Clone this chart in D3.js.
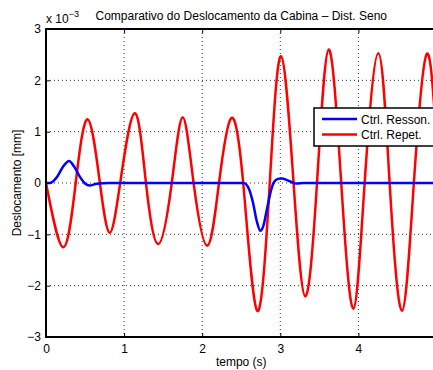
<!DOCTYPE html>
<html>
<head>
<meta charset="utf-8">
<script src="https://cdn.jsdelivr.net/npm/d3@7"></script>
<style>
  html, body { margin: 0; padding: 0; background: #fff; }
  svg { display: block; }
  text { font-family: "Liberation Sans", Arial, Helvetica, sans-serif; fill: #000; }
</style>
</head>
<body>
<svg id="chart" width="433" height="370"></svg>
<script>
// Cabin displacement (x 10^-3 mm) over time, two controllers
const titleText = "Comparativo do Deslocamento da Cabina \u2013 Dist. Seno";
const xLabelText = "tempo (s)";
const yLabelText = "Deslocamento [mm]";
const seriesNames = ["Ctrl. Resson.", "Ctrl. Repet."];
const seriesColors = ["#0000ff", "#ff0000"];

const xTicks = [0, 1, 2, 3, 4, 5];
const yTicks = [-3, -2, -1, 0, 1, 2, 3];

// Resonant controller: time (s) and displacement
const ressonT = [0, 0.05, 0.137, 0.22, 0.295, 0.36, 0.435, 0.5, 0.555, 0.65, 0.8, 1.5, 2.0, 2.53,
                 2.6, 2.65, 2.7, 2.744, 2.78, 2.83, 2.88, 2.92, 2.97, 3.02, 3.08, 3.14, 3.2, 3.3, 4.0, 5.0];
const ressonY = [0, 0.0, 0.11, 0.32, 0.43, 0.32, 0.12, -0.01, -0.05, -0.015, 0, 0, 0, 0,
                 -0.12, -0.38, -0.75, -0.93, -0.85, -0.5, -0.15, 0.02, 0.08, 0.09, 0.06, 0.02, -0.01, 0, 0, 0];

// Repetitive controller: time (s) and displacement (extrema and zero crossings)
const repetT = [0, 0.222, 0.38, 0.534, 0.69, 0.815, 0.95, 1.135, 1.28, 1.438, 1.61, 1.75, 1.89,
                2.065, 2.215, 2.369, 2.525, 2.705, 2.865, 3.01, 3.17, 3.32, 3.47, 3.62, 3.78,
                3.935, 4.08, 4.255, 4.40, 4.558, 4.71, 4.874, 5.0];
const repetY = [0, -1.25, 0, 1.24, 0, -0.97, 0, 1.36, 0, -1.19, 0, 1.28, 0,
                -1.22, 0, 1.26, 0, -2.49, 0, 2.47, 0, -2.21, 0, 2.60, 0,
                -2.45, 0, 2.53, 0, -2.49, 0, 2.51, 0.8];

const svg = d3.select("#chart");
const margin = { left: 46, top: 29, right: 436.5, bottom: 337 };

const x = d3.scaleLinear().domain([0, 5]).range([margin.left, margin.right]);
const y = d3.scaleLinear().domain([-3, 3]).range([margin.bottom, margin.top]);

svg.append("defs").append("clipPath").attr("id", "plotclip")
  .append("rect")
  .attr("x", x(0)).attr("y", y(3))
  .attr("width", x(5) - x(0)).attr("height", y(-3) - y(3));

// Dotted grid
const grid = svg.append("g").attr("class", "grid");
grid.selectAll("line.vx").data(xTicks.filter(d => d > 0 && d < 5)).join("line")
  .attr("x1", d => x(d)).attr("x2", d => x(d))
  .attr("y1", y(3)).attr("y2", y(-3))
  .attr("stroke", "#333").attr("stroke-width", 1).attr("stroke-dasharray", "1,3");
grid.selectAll("line.hy").data(yTicks.filter(d => d > -3 && d < 3)).join("line")
  .attr("x1", x(0)).attr("x2", x(5))
  .attr("y1", d => y(d)).attr("y2", d => y(d))
  .attr("stroke", "#333").attr("stroke-width", 1).attr("stroke-dasharray", "1,3");

// Series lines
const plot = svg.append("g").attr("clip-path", "url(#plotclip)");
const lineGen = d3.line().x(d => x(d[0])).y(d => y(d[1]));

const ressonPts = ressonT.map((t, i) => [t, ressonY[i]]);
const repetPts = repetT.map((t, i) => [t, repetY[i]]);

plot.append("path").datum(repetPts)
  .attr("d", lineGen.curve(d3.curveNatural))
  .attr("fill", "none").attr("stroke", seriesColors[1]).attr("stroke-width", 2.5)
  .attr("stroke-linejoin", "round");
plot.append("path").datum(ressonPts)
  .attr("d", lineGen.curve(d3.curveMonotoneX))
  .attr("fill", "none").attr("stroke", seriesColors[0]).attr("stroke-width", 2.5)
  .attr("stroke-linejoin", "round");

// Axes with inward ticks
const tickLen = 4;
const xAxisB = d3.axisBottom(x).tickValues(xTicks.slice(0, 5)).tickSizeInner(-tickLen).tickSizeOuter(0).tickPadding(7).tickFormat(d3.format("d"));
const xAxisT = d3.axisTop(x).tickValues(xTicks.slice(0, 5)).tickSizeInner(-tickLen).tickSizeOuter(0).tickFormat("");
const yAxisL = d3.axisLeft(y).tickValues(yTicks).tickSizeInner(-tickLen).tickSizeOuter(0).tickPadding(5)
  .tickFormat(d => d < 0 ? "\u2212" + Math.abs(d) : String(d));

function styleAxis(g) {
  g.select(".domain").remove();
  g.selectAll(".tick line").attr("stroke", "#000").attr("stroke-width", 1);
  g.selectAll(".tick text").attr("font-size", 12).attr("fill", "#000")
    .attr("font-family", "'Liberation Sans', Arial, sans-serif");
}

svg.append("g").attr("transform", `translate(0,${y(-3)})`).call(xAxisB).call(styleAxis);
svg.append("g").attr("transform", `translate(0,${y(3)})`).call(xAxisT).call(styleAxis);
svg.append("g").attr("transform", `translate(${x(0)},0)`).call(yAxisL).call(styleAxis);

// Axes box
svg.append("rect")
  .attr("x", x(0)).attr("y", y(3))
  .attr("width", x(5) - x(0)).attr("height", y(-3) - y(3))
  .attr("fill", "none").attr("stroke", "#000").attr("stroke-width", 2);

// Exponent marker
const expo = svg.append("text").attr("x", x(0)).attr("y", 23).attr("font-size", 12);
expo.append("tspan").text("x 10");
expo.append("tspan").attr("dy", -6).attr("font-size", 9).text("\u22123");

// Title and axis labels
svg.append("text").attr("x", (x(0) + x(5)) / 2).attr("y", 20)
  .attr("text-anchor", "middle").attr("font-size", 12).text(titleText);
svg.append("text").attr("x", (x(0) + x(5)) / 2).attr("y", 366)
  .attr("text-anchor", "middle").attr("font-size", 12).text(xLabelText);
svg.append("text")
  .attr("transform", `translate(21,${y(0)}) rotate(-90)`)
  .attr("text-anchor", "middle").attr("font-size", 12).text(yLabelText);

// Legend
const leg = svg.append("g").attr("transform", "translate(314,108)");
leg.append("rect").attr("width", 125).attr("height", 38)
  .attr("fill", "#fff").attr("stroke", "#000").attr("stroke-width", 1.5);
seriesNames.forEach((name, i) => {
  const ly = 11 + i * 15.5;
  leg.append("line").attr("x1", 8).attr("x2", 43).attr("y1", ly).attr("y2", ly)
    .attr("stroke", seriesColors[i]).attr("stroke-width", 2.5);
  leg.append("text").attr("x", 47).attr("y", ly + 4.5).attr("font-size", 12).text(name);
});
</script>
</body>
</html>
